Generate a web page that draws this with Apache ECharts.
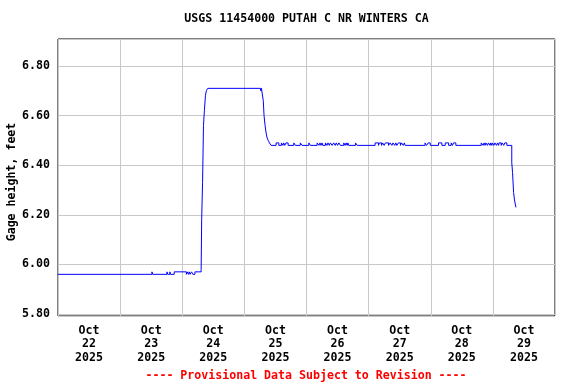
<!DOCTYPE html>
<html>
<head>
<meta charset="utf-8">
<script src="https://cdn.jsdelivr.net/npm/echarts@6/dist/echarts.min.js"></script>
<style>html,body{margin:0;padding:0;background:#fff}#c{width:576px;height:384px}</style>
</head>
<body>
<div id="c"></div>
<script>
// Hours since Oct 22 2025 00:00 and gage height (ft); each value holds until the next time
const hours = [0,36.3,36.6,42.1,42.4,43.2,43.5,44.9,49.6,49.9,50.4,50.7,51.0,51.6,52.1,52.9,
  55.3,55.5,55.85,56.2,56.55,56.95,57.3,57.85,78.3,78.6,
  79.3,79.6,80.0,80.4,80.8,81.2,81.7,82.3,
  84.25,85.3,86.3,86.9,87.2,87.6,88.1,88.9,91.1,91.7,93.6,94.3,96.9,97.5,
  100.1,100.8,101.2,101.6,102.0,102.3,103.3,103.9,104.3,104.8,105.2,105.9,
  106.5,107.1,107.5,108.0,108.5,109.1,110.4,110.9,111.3,111.7,112.0,112.3,114.9,115.6,
  122.5,123.8,124.2,125.0,125.4,126.0,126.5,127.7,128.3,129.0,129.4,130.1,130.5,130.9,
  131.5,132.3,132.7,133.4,133.8,134.1,141.8,142.4,143.0,143.8,147.0,148.3,149.6,150.9,
  151.9,152.4,152.8,153.7,
  163.5,164.2,164.6,165.0,165.3,165.9,166.3,166.9,167.2,167.6,167.8,168.4,168.8,169.4,
  169.8,170.2,170.4,171.2,171.6,172.2,172.6,173.4,
  175.3,175.6,176.0,176.35,176.9];
const gageFeet = [5.96,5.97,5.96,5.97,5.96,5.97,5.96,5.97,5.96,5.97,5.96,5.97,5.96,5.97,5.96,5.97,
  5.98,6.18,6.33,6.56,6.62,6.68,6.70,6.71,6.70,6.71,
  6.66,6.60,6.56,6.53,6.51,6.50,6.49,6.48,
  6.49,6.48,6.49,6.48,6.49,6.48,6.49,6.48,6.49,6.48,6.49,6.48,6.49,6.48,
  6.49,6.48,6.49,6.48,6.49,6.48,6.49,6.48,6.49,6.48,6.49,6.48,
  6.49,6.48,6.49,6.48,6.49,6.48,6.49,6.48,6.49,6.48,6.49,6.48,6.49,6.48,
  6.49,6.48,6.49,6.48,6.49,6.48,6.49,6.48,6.49,6.48,6.49,6.48,6.49,6.48,
  6.49,6.48,6.49,6.48,6.49,6.48,6.49,6.48,6.49,6.48,6.49,6.48,6.49,6.48,
  6.49,6.48,6.49,6.48,
  6.49,6.48,6.49,6.48,6.49,6.48,6.49,6.48,6.49,6.48,6.49,6.48,6.49,6.48,
  6.49,6.48,6.49,6.48,6.49,6.48,6.49,6.48,
  6.41,6.37,6.29,6.26,6.23];
const dayLabels = ['Oct\n22\n2025','Oct\n23\n2025','Oct\n24\n2025','Oct\n25\n2025',
  'Oct\n26\n2025','Oct\n27\n2025','Oct\n28\n2025','Oct\n29\n2025'];
const titleText = 'USGS 11454000 PUTAH C NR WINTERS CA';
const yName = 'Gage height, feet';
const noteText = '---- Provisional Data Subject to Revision ----';

const FONT = '"DejaVu Sans Mono", monospace';
const chart = echarts.init(document.getElementById('c'), null, {renderer: 'canvas'});
chart.setOption({
  animation: false,
  backgroundColor: '#fff',
  grid: {left: 58, right: 21, top: 39, bottom: 68, containLabel: false, outerBoundsMode: 'none',
    show: true, borderColor: '#000', borderWidth: 1, backgroundColor: 'transparent'},
  graphic: [
    {type: 'text', x: 306.5, y: 19, style: {text: titleText, textAlign: 'center', textVerticalAlign: 'middle', font: 'bold 11.6px ' + FONT, fill: '#000'}},
    {type: 'text', x: 12, y: 182, rotation: Math.PI / 2, style: {text: yName, textAlign: 'center', textVerticalAlign: 'middle', font: 'bold 11.6px ' + FONT, fill: '#000'}},
    {type: 'text', x: 306, y: 376, style: {text: noteText, textAlign: 'center', textVerticalAlign: 'middle', font: 'bold 11.6px ' + FONT, fill: '#ff0000'}}
  ],
  xAxis: [
    {type: 'value', min: 0, max: 192, interval: 24,
     axisLine: {show: false}, axisTick: {show: false}, axisLabel: {show: false},
     splitLine: {show: true, lineStyle: {color: '#c8c8c8', width: 1}}},
    {type: 'category', data: dayLabels, boundaryGap: true, position: 'bottom',
     axisLine: {show: false}, axisTick: {show: false}, splitLine: {show: false},
     axisLabel: {margin: 8, color: '#000', fontFamily: FONT, fontWeight: 'bold', fontSize: 11.6, lineHeight: 13.4, interval: 0}}
  ],
  yAxis: {
    type: 'value', min: 5.792, max: 6.909,
    axisLine: {show: false}, axisTick: {show: false},
    axisLabel: {margin: 8, color: '#000', fontFamily: FONT, fontWeight: 'bold', fontSize: 11.6,
      showMinLabel: false, showMaxLabel: false,
      formatter: v => v.toFixed(2)},
    splitLine: {show: true, lineStyle: {color: '#c8c8c8', width: 1}}
  },
  series: [{
    type: 'line', xAxisIndex: 0, step: 'end', showSymbol: false, symbol: 'none',
    lineStyle: {color: '#0000ff', width: 1},
    data: hours.map((h, i) => [h, gageFeet[i]])
  }]
});
</script>
</body>
</html>
